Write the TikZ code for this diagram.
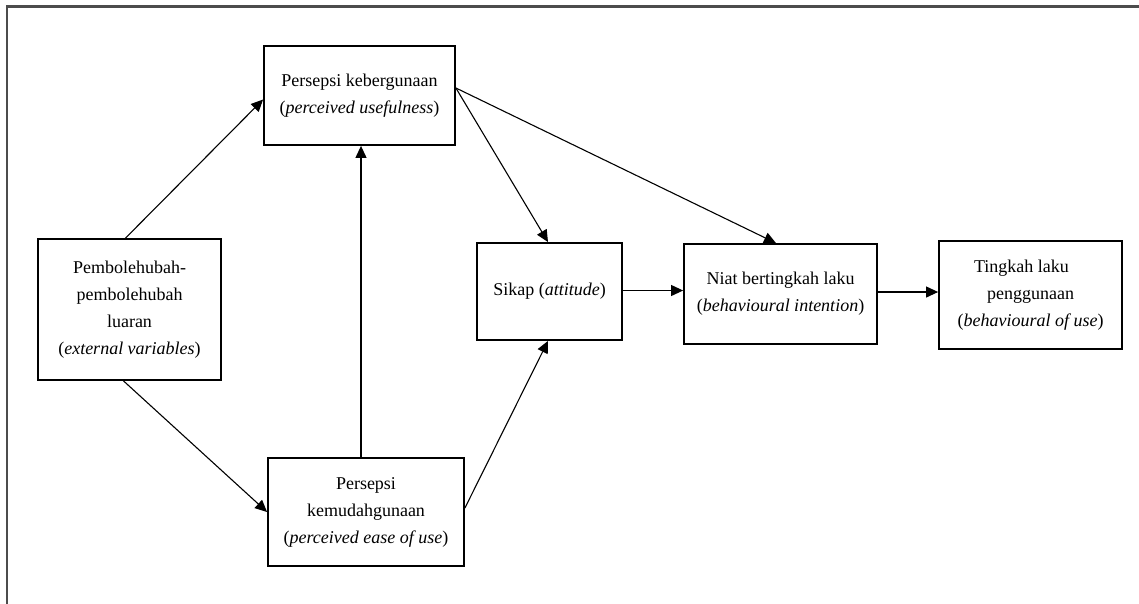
\documentclass[tikz,border=0pt]{standalone}
\usepackage{fontspec}
\setmainfont{Liberation Serif}
\usetikzlibrary{arrows.meta}
\begin{document}
\begin{tikzpicture}[x=1pt,y=-1pt,
  box/.style={draw=black,line width=1.8pt,inner sep=0pt,align=center,
    font=\fontsize{18}{27}\selectfont},
  arr/.style={line width=1.1pt,-{Triangle[length=12pt,width=11pt]}},
  frame/.style={draw=black!70,line width=2.4pt}]
\useasboundingbox (0,0) rectangle (1139,603);
\clip (0,0) rectangle (1139,603);
\fill[white] (0,0) rectangle (1139,603);
\draw[frame] (7,620) -- (7,6.5) -- (1160,6.5);
\node[box,minimum width=183pt,minimum height=141pt] (ext) at (129.5,309.5)
  {Pembolehubah-\\pembolehubah\\luaran\\(\textit{external variables})};
\node[box,minimum width=191pt,minimum height=99pt] (pu) at (359.5,95.5)
  {Persepsi kebergunaan\\(\textit{perceived usefulness})};
\node[box,minimum width=196pt,minimum height=108pt] (peou) at (366,512)
  {Persepsi\\kemudahgunaan\\(\textit{perceived ease of use})};
\node[box,minimum width=145pt,minimum height=97pt] (sikap) at (549.5,291.5)
  {Sikap (\textit{attitude})};
\node[box,minimum width=193pt,minimum height=100pt] (niat) at (780.5,294)
  {Niat bertingkah laku\\(\textit{behavioural intention})};
\node[box,minimum width=183pt,minimum height=108pt] (ting) at (1030.5,295)
  {Tingkah laku\hspace*{18pt}\\penggunaan\hspace*{18pt}\\(\textit{behavioural of use})};
\draw[arr] ([xshift=-4pt]ext.north) -- ([yshift=-4pt]pu.west);
\draw[arr] ([xshift=-6pt]ext.south) -- (peou.west);
\draw[arr] ([xshift=-5pt]peou.north) -- ([xshift=1.5pt]pu.south);
\draw[arr] ([yshift=4pt]peou.east) -- ([xshift=-1.5pt]sikap.south);
\draw[arr] ([yshift=7.5pt]pu.east) -- ([xshift=-1.5pt]sikap.north);
\draw[arr] ([yshift=7.5pt]pu.east) -- ([xshift=-4.5pt]niat.north);
\draw[arr] ([yshift=1pt]sikap.east) -- ([yshift=1pt]sikap.east -| niat.west);
\draw[arr] ([yshift=2pt]niat.east) -- ([yshift=2pt]niat.east -| ting.west);
\end{tikzpicture}
\end{document}
